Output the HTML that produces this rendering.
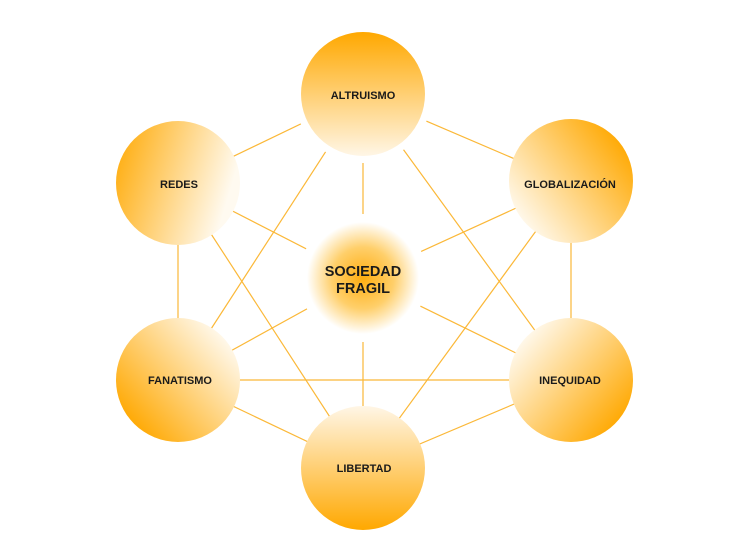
<!DOCTYPE html>
<html><head><meta charset="utf-8"><style>
body{margin:0;background:#fff}
svg{display:block}
text{font-family:"Liberation Sans",sans-serif;font-weight:bold;fill:#1a1a1a;text-anchor:middle}
</style></head><body>
<svg width="750" height="560" viewBox="0 0 750 560">
<defs>
<linearGradient id="gA" x1="0" y1="0" x2="0" y2="1"><stop offset="0" stop-color="#ffa800"/><stop offset="1" stop-color="#fff6e6"/></linearGradient>
<linearGradient id="gR" x1="0" y1="0" x2="1" y2="0.3"><stop offset="0" stop-color="#ffa800"/><stop offset="1" stop-color="#fffaf0"/></linearGradient>
<linearGradient id="gG" x1="0.1" y1="0.85" x2="0.95" y2="0.2"><stop offset="0" stop-color="#fffaf0"/><stop offset="1" stop-color="#ffa800"/></linearGradient>
<linearGradient id="gF" x1="0.9" y1="0.15" x2="0.1" y2="0.85"><stop offset="0" stop-color="#fffaf0"/><stop offset="1" stop-color="#ffa800"/></linearGradient>
<linearGradient id="gI" x1="0.1" y1="0.15" x2="0.9" y2="0.85"><stop offset="0" stop-color="#fffaf0"/><stop offset="1" stop-color="#ffa800"/></linearGradient>
<linearGradient id="gL" x1="0" y1="0" x2="0" y2="1"><stop offset="0" stop-color="#fff6e6"/><stop offset="1" stop-color="#ffa800"/></linearGradient>
<radialGradient id="gC"><stop offset="0" stop-color="#ffad10"/><stop offset="0.55" stop-color="#ffcf6a"/><stop offset="1" stop-color="#ffffff"/></radialGradient>
</defs>
<g stroke="#fbb838" stroke-width="1.2">
<line x1="363" y1="94" x2="178" y2="183"/>
<line x1="363" y1="94" x2="571" y2="183"/>
<line x1="178" y1="183" x2="178" y2="380"/>
<line x1="571" y1="183" x2="571" y2="380"/>
<line x1="178" y1="380" x2="363" y2="468"/>
<line x1="571" y1="380" x2="363" y2="468"/>
<line x1="178" y1="380" x2="571" y2="380"/>
<line x1="363" y1="94" x2="178" y2="380"/>
<line x1="363" y1="94" x2="571" y2="380"/>
<line x1="178" y1="183" x2="363" y2="468"/>
<line x1="571" y1="183" x2="363" y2="468"/>
<line x1="363" y1="94" x2="363" y2="468"/>
<line x1="178" y1="183" x2="363" y2="278"/>
<line x1="571" y1="183" x2="363" y2="278"/>
<line x1="178" y1="380" x2="363" y2="278"/>
<line x1="571" y1="380" x2="363" y2="278"/>
</g>
<circle cx="363" cy="94" r="69" fill="#fff"/>
<circle cx="363" cy="94" r="62" fill="url(#gA)"/>
<circle cx="178" cy="183" r="62" fill="url(#gR)"/>
<circle cx="571" cy="181" r="62" fill="url(#gG)"/>
<circle cx="178" cy="380" r="62" fill="url(#gF)"/>
<circle cx="571" cy="380" r="62" fill="url(#gI)"/>
<circle cx="363" cy="468" r="62" fill="url(#gL)"/>
<circle cx="363" cy="278" r="64" fill="#fff"/>
<circle cx="363" cy="278" r="56" fill="url(#gC)"/>
<text x="363" y="99" font-size="11">ALTRUISMO</text>
<text x="179" y="188" font-size="11">REDES</text>
<text x="570" y="188" font-size="11">GLOBALIZACIÓN</text>
<text x="180" y="384" font-size="11">FANATISMO</text>
<text x="570" y="384" font-size="11">INEQUIDAD</text>
<text x="364" y="472" font-size="11">LIBERTAD</text>
<text x="363" y="276" font-size="14.5">SOCIEDAD</text>
<text x="363" y="293" font-size="14.5">FRAGIL</text>
</svg>
</body></html>
